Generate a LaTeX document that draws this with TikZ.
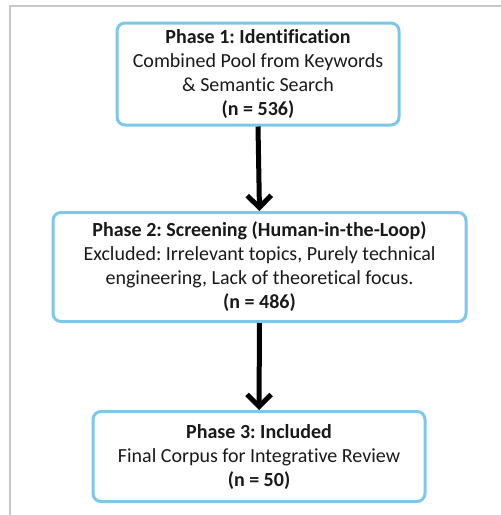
\documentclass[tikz,border=0pt]{standalone}
\usepackage{fontspec}
\setmainfont{Carlito}[Ligatures={NoCommon}]
\usepackage{tikz}
\usetikzlibrary{arrows.meta}
\definecolor{skyline}{RGB}{125, 200, 234}
\definecolor{frame}{RGB}{200, 200, 200}
\definecolor{ink}{RGB}{25, 25, 25}

\begin{document}
\begin{tikzpicture}[x=1pt, y=-1pt,
    phase/.style={draw=skyline, line width=3, rounded corners=8, align=center,
      inner sep=0, text=ink, font=\fontsize{20}{24}\selectfont\frenchspacing},
    flow/.style={line width=5, -{Straight Barb[length=12, width=24]}}]

  \useasboundingbox (0, 0) rectangle (501, 515);

  % page edge
  \draw[frame, line width=1.5] (10, 515) -- (10, 6) -- (501, 6);

  \node[phase, minimum width=282, minimum height=102] (identify) at (258, 74)
    { \textbf{Phase 1: Identification} \\
      Combined Pool from Keywords \\
      \& Semantic Search \\
      \textbf{(n = 536)} };

  \node[phase, minimum width=413, minimum height=109] (screen) at (259.5, 267)
    { \textbf{Phase 2: Screening (Human-in-the-Loop)} \\
      Excluded: Irrelevant topics, Purely technical \\
      engineering, Lack of theoretical focus. \\
      \textbf{(n = 486)} };

  \node[phase, minimum width=332, minimum height=90] (include) at (259, 456.5)
    { \textbf{Phase 3: Included} \\
      Final Corpus for Integrative Review \\
      \textbf{(n = 50)} };

  \draw[flow] (identify.south) -- (screen.north);
  \draw[flow] (screen.south) -- (include.north);

\end{tikzpicture}
\end{document}
